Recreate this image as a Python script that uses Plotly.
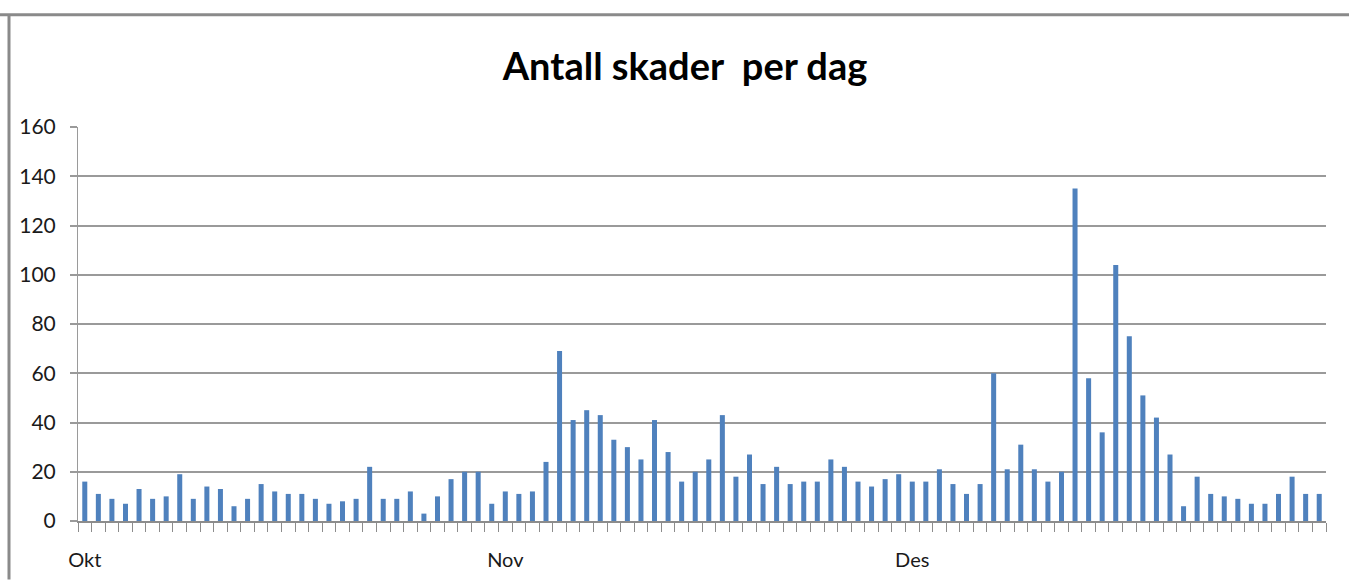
import plotly.graph_objects as go

# Daily values, 1 Oct - 31 Dec
okt = [16, 11, 9, 7, 13, 9, 10, 19, 9, 14, 13, 6, 9, 15, 12, 11, 11, 9, 7, 8,
       9, 22, 9, 9, 12, 3, 10, 17, 20, 20, 7]
nov = [12, 11, 12, 24, 69, 41, 45, 43, 33, 30, 25, 41, 28, 16, 20, 25, 43, 18,
       27, 15, 22, 15, 16, 16, 25, 22, 16, 14, 17, 19]
des = [16, 16, 21, 15, 11, 15, 60, 21, 31, 21, 16, 20, 135, 58, 36, 104, 75,
       51, 42, 27, 6, 18, 11, 10, 9, 7, 7, 11, 18, 11, 11]
month_labels = ["Okt", "Nov", "Des"]
y_ticks = [0, 20, 40, 60, 80, 100, 120, 140, 160]

values = okt + nov + des
x = list(range(len(values)))
month_starts = [0, len(okt), len(okt) + len(nov)]

W, H = 1349, 583
L, R, T, B = 78, 23, 127, 59
pw = W - L - R
ph = H - T - B

def px_x(p):
    return (p - L) / pw

def px_y(p):
    return (H - B - p) / ph

fig = go.Figure(go.Bar(x=x, y=values, marker=dict(color="#4f81bd", line=dict(width=0))))

border = "#8a8a8a"
fig.add_shape(type="line", xref="paper", yref="paper",
              x0=px_x(0), x1=px_x(W), y0=px_y(14), y1=px_y(14),
              line=dict(color=border, width=3))
fig.add_shape(type="line", xref="paper", yref="paper",
              x0=px_x(9), x1=px_x(9), y0=px_y(14), y1=px_y(H),
              line=dict(color=border, width=3))

fig.update_layout(
    width=W, height=H,
    margin=dict(l=L, r=R, t=T, b=B),
    paper_bgcolor="white", plot_bgcolor="white",
    bargap=0.63,
    showlegend=False,
    font=dict(family="Lato", color="#000000"),
    title=dict(text="<b>Antall skader&nbsp; per dag</b>", x=685 / W, xanchor="center",
               xref="container", yref="container", y=1 - 67 / H, yanchor="middle",
               font=dict(family="Lato", size=38, color="#000000")),
)
fig.update_xaxes(
    range=[-0.5, len(values) - 0.5],
    tickmode="array", tickvals=month_starts, ticktext=month_labels,
    ticks="", ticklabelstandoff=20,
    tickfont=dict(size=20, color="#1a1a1a"),
    showgrid=False, zeroline=False,
    showline=True, linecolor="#8c8c8c", linewidth=1.5,
    minor=dict(tick0=-0.5, dtick=1, ticks="outside", ticklen=9,
               tickcolor="#8c8c8c", tickwidth=1, showgrid=False),
)
fig.update_yaxes(
    range=[0, 160], tickmode="array", tickvals=y_ticks,
    ticks="outside", ticklen=7, tickcolor="#9a9a9a", tickwidth=1.5,
    ticklabelstandoff=10,
    tickfont=dict(size=21, color="#1a1a1a"),
    showgrid=True, gridcolor="#9a9a9a", gridwidth=1.5,
    zeroline=False, showline=True, linecolor="#9a9a9a", linewidth=1,
)

fig.write_html("out.html", config={"displayModeBar": False},
               post_script="document.body.style.margin='0';document.body.style.overflow='hidden';")
